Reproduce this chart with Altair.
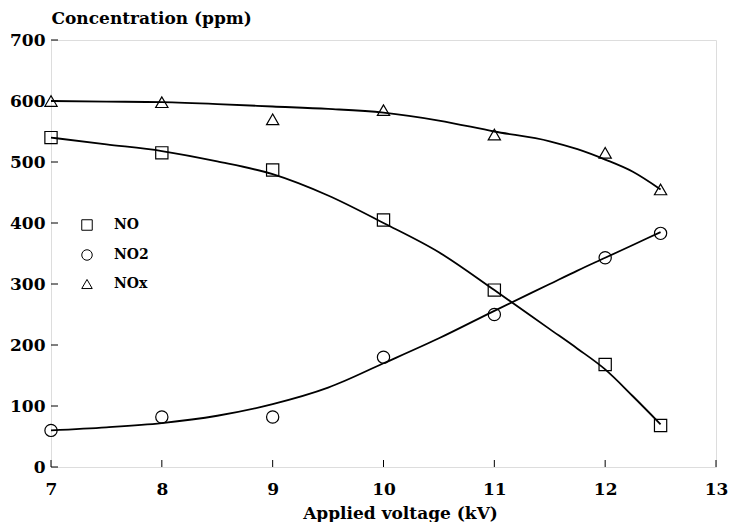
import altair as alt
import pandas as pd

# measured points
x_pts = [7, 8, 9, 10, 11, 12, 12.5]
no_pts = [540, 515, 487, 405, 290, 168, 68]
no2_pts = [60, 82, 82, 180, 250, 343, 383]
nox_pts = [600, 598, 570, 585, 545, 515, 455]

# fitted curves
curve_x = [7, 7.5, 8, 8.5, 9, 9.5, 10, 10.5, 11, 11.5, 11.75, 12, 12.25, 12.5]
no_curve = [540, 529, 518, 501, 480, 445, 400, 352, 290, 226, 194, 160, 116, 70]
no2_curve = [60, 65, 72, 84, 103, 130, 170, 211, 256, 300, 322, 343, 364, 385]
nox_curve = [600, 599, 598, 595, 591, 587, 581, 568, 550, 534, 521, 504, 484, 455]

series = ["NO", "NO2", "NOx"]
x_ticks = [7, 8, 9, 10, 11, 12, 13]
y_ticks = [0, 100, 200, 300, 400, 500, 600, 700]

W, H = 665, 427
FONT = "DejaVu Serif"

pts = pd.concat([
    pd.DataFrame({"v": x_pts, "c": vals, "s": s})
    for s, vals in zip(series, [no_pts, no2_pts, nox_pts])
])
curves = pd.concat([
    pd.DataFrame({"v": curve_x, "c": vals, "s": s})
    for s, vals in zip(series, [no_curve, no2_curve, nox_curve])
])

xs = alt.Scale(domain=[7, 13], nice=False)
ys = alt.Scale(domain=[0, 700], nice=False)

x_enc = alt.X("v:Q", scale=xs, axis=alt.Axis(
    values=x_ticks, format="d", ticks=False, domain=False, grid=False,
    labelFlush=False, labelOverlap=False,
    labelFont=FONT, labelFontWeight="bold", labelFontSize=17, labelPadding=14,
    labelColor="black",
    title="Applied voltage (kV)", titleFont=FONT, titleFontWeight="bold",
    titleFontSize=17, titleColor="black", titlePadding=8, titleX=349))
y_enc = alt.Y("c:Q", scale=ys, axis=alt.Axis(
    values=y_ticks, format="d", ticks=False, domain=False, grid=False,
    labelFlush=False, labelOverlap=False,
    labelFont=FONT, labelFontWeight="bold", labelFontSize=17, labelPadding=6,
    labelColor="black",
    title="Concentration (ppm)", titleFont=FONT, titleFontWeight="bold",
    titleFontSize=17, titleColor="black", titleAngle=0, titleAlign="left",
    titleBaseline="bottom", titleX=0, titleY=-13))

lines = alt.Chart(curves).mark_line(color="black", strokeWidth=1.8,
                                    interpolate="monotone").encode(
    x=x_enc, y=y_enc, detail="s:N")

points = alt.Chart(pts).mark_point(filled=False, color="black", size=150,
                                   strokeWidth=1.2, opacity=1).encode(
    x=alt.X("v:Q", scale=xs),
    y=alt.Y("c:Q", scale=ys),
    shape=alt.Shape("s:N", scale=alt.Scale(
        domain=series, range=["square", "circle", "triangle-up"]),
        legend=alt.Legend(
            title=None, orient="none", legendX=29, legendY=178,
            symbolSize=110, symbolStrokeWidth=1, symbolStrokeColor="black",
            symbolFillColor="transparent", labelFont=FONT,
            labelFontWeight="bold", labelFontSize=14, labelColor="black",
            labelOffset=20, rowPadding=14, padding=0)))

ytick_df = pd.DataFrame({"c": y_ticks})
xtick_df = pd.DataFrame({"v": x_ticks})
yt = alt.Chart(ytick_df).mark_rule(color="black", strokeWidth=1).encode(
    y=alt.Y("c:Q", scale=ys), x=alt.value(0), x2=alt.value(7))
xt = alt.Chart(xtick_df).mark_rule(color="black", strokeWidth=1).encode(
    x=alt.X("v:Q", scale=xs), y=alt.value(H), y2=alt.value(H - 7))

chart = alt.layer(lines, points, yt, xt).properties(
    width=W, height=H,
    autosize=alt.AutoSizeParams(type="none"),
    padding={"left": 43, "top": 32, "right": 13, "bottom": 55},
).configure_view(stroke="black", strokeWidth=1.2).configure(background="white")

chart.save("out.html", embed_options={"renderer": "svg", "actions": False})
